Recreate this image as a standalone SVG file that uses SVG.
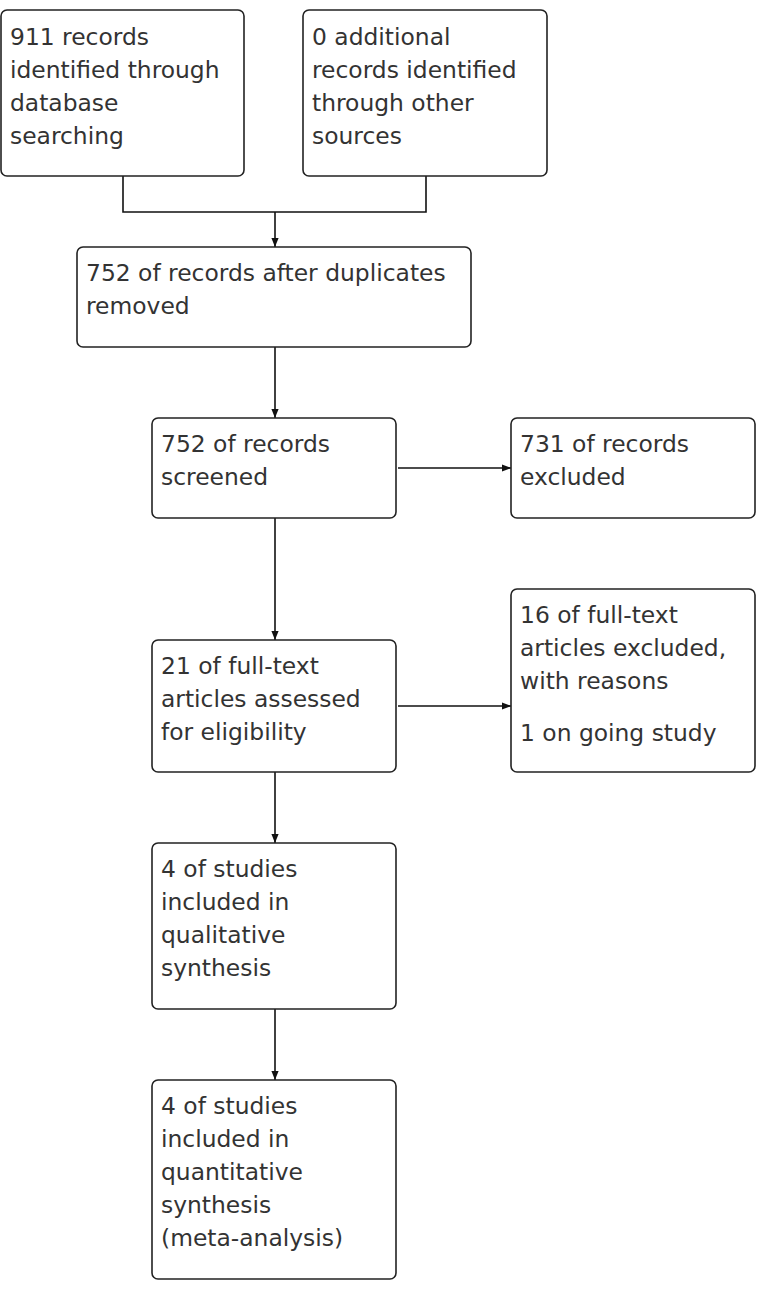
<svg xmlns="http://www.w3.org/2000/svg" width="767" height="1306" viewBox="0 0 767 1306">
<defs>
<style>
.box{fill:#fff;stroke:#222;stroke-width:1.6}
.t{font-family:"DejaVu Sans",Verdana,sans-serif;font-size:23.4px;fill:#333}
.c{fill:none;stroke:#111;stroke-width:1.6}
</style>
<marker id="ah" viewBox="0 0 10 10" refX="10" refY="5" markerWidth="9" markerHeight="9" markerUnits="userSpaceOnUse" orient="auto">
<path d="M0,1 L10,5 L0,9 Z" fill="#111"/>
</marker>
</defs>
<rect width="767" height="1306" fill="#fff"/>
<g id="connectors">
<path class="c" d="M123,176 V212 H426 V176"/>
<path class="c" d="M275,212 V247" marker-end="url(#ah)"/>
<path class="c" d="M275,347 V418" marker-end="url(#ah)"/>
<path class="c" d="M398,468 H511" marker-end="url(#ah)"/>
<path class="c" d="M275,518 V640" marker-end="url(#ah)"/>
<path class="c" d="M398,706 H511" marker-end="url(#ah)"/>
<path class="c" d="M275,772 V843" marker-end="url(#ah)"/>
<path class="c" d="M275,1009 V1080" marker-end="url(#ah)"/>
</g>
<g id="n1"><rect class="box" x="1" y="10" width="243" height="166" rx="6"/>
<text class="t" x="10" y="45">911 records</text><text class="t" x="10" y="78">identified through</text><text class="t" x="10" y="111">database</text><text class="t" x="10" y="144">searching</text></g>
<g id="n2"><rect class="box" x="303" y="10" width="244" height="166" rx="6"/>
<text class="t" x="312" y="45">0 additional</text><text class="t" x="312" y="78">records identified</text><text class="t" x="312" y="111">through other</text><text class="t" x="312" y="144">sources</text></g>
<g id="n3"><rect class="box" x="77" y="247" width="394" height="100" rx="6"/>
<text class="t" x="86" y="281">752 of records after duplicates</text><text class="t" x="86" y="314">removed</text></g>
<g id="n4"><rect class="box" x="152" y="418" width="244" height="100" rx="6"/>
<text class="t" x="161" y="452">752 of records</text><text class="t" x="161" y="485">screened</text></g>
<g id="n5"><rect class="box" x="511" y="418" width="244" height="100" rx="6"/>
<text class="t" x="520" y="452">731 of records</text><text class="t" x="520" y="485">excluded</text></g>
<g id="n6"><rect class="box" x="152" y="640" width="244" height="132" rx="6"/>
<text class="t" x="161" y="674">21 of full-text</text><text class="t" x="161" y="707">articles assessed</text><text class="t" x="161" y="740">for eligibility</text></g>
<g id="n7"><rect class="box" x="511" y="589" width="244" height="183" rx="6"/>
<text class="t" x="520" y="623">16 of full-text</text><text class="t" x="520" y="656">articles excluded,</text><text class="t" x="520" y="689">with reasons</text><text class="t" x="520" y="741">1 on going study</text></g>
<g id="n8"><rect class="box" x="152" y="843" width="244" height="166" rx="6"/>
<text class="t" x="161" y="877">4 of studies</text><text class="t" x="161" y="910">included in</text><text class="t" x="161" y="943">qualitative</text><text class="t" x="161" y="976">synthesis</text></g>
<g id="n9"><rect class="box" x="152" y="1080" width="244" height="199" rx="6"/>
<text class="t" x="161" y="1114">4 of studies</text><text class="t" x="161" y="1147">included in</text><text class="t" x="161" y="1180">quantitative</text><text class="t" x="161" y="1213">synthesis</text><text class="t" x="161" y="1246">(meta-analysis)</text></g>
</svg>
